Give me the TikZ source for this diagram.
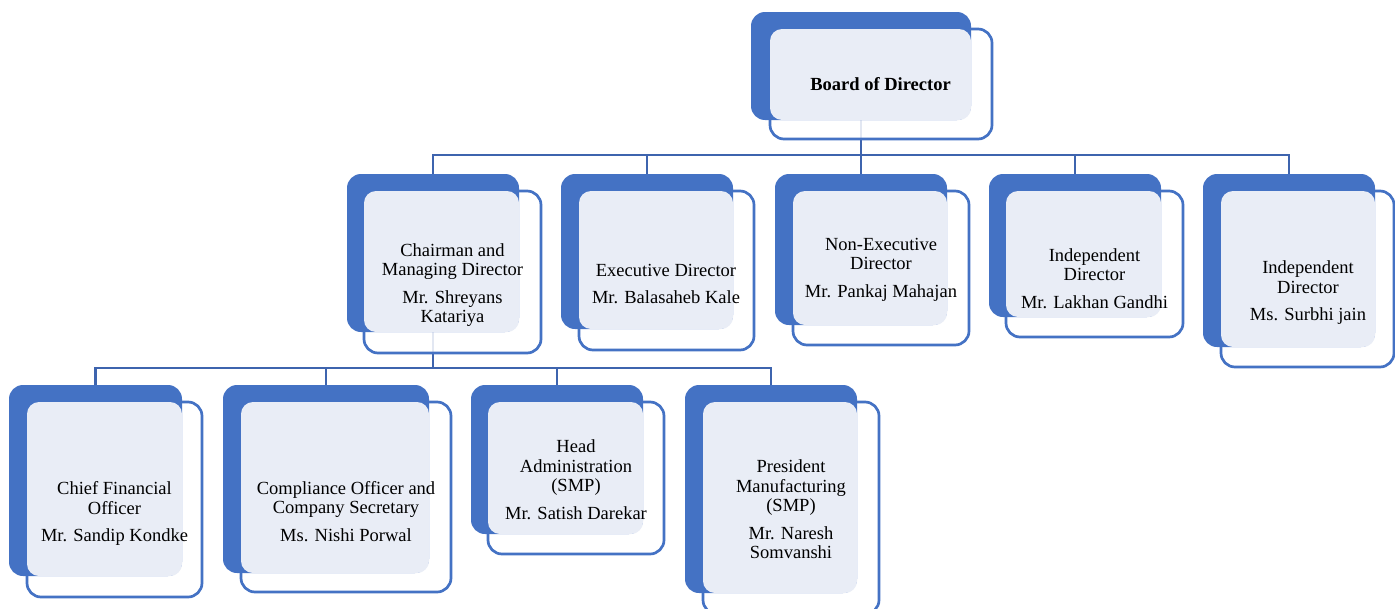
\documentclass[tikz,border=0pt]{standalone}
\usepackage{fontspec}
\setmainfont{Liberation Serif}
\usetikzlibrary{fit}
\pgfdeclarelayer{background}
\pgfsetlayers{background,main}

\definecolor{accent}{HTML}{4472C4}
\definecolor{connblue}{HTML}{3E64AE}
\definecolor{paleblue}{HTML}{E9EDF6}

\tikzset{
  frontbox/.style={draw=accent, line width=2.7pt, fill=white, fill opacity=0.85,
    draw opacity=1, rounded corners=14pt, inner sep=0pt, outer sep=0pt},
  backbox/.style={fill=accent, rounded corners=14pt, inner sep=0pt, outer sep=0pt},
  lightbox/.style={fill=paleblue, rounded corners=12pt, inner sep=0pt, outer sep=0pt},
  caption/.style={align=center, inner sep=0pt, text=black,
    font=\fontsize{18.5}{19.5}\selectfont},
  conn/.style={draw=connblue, line width=2.7pt}
}

% one chart entry: name, back NW, back SE, front NW, front SE, text centre, text
\newcommand{\orgunit}[7]{%
  \node[frontbox, fit={(#4) (#5)}] (#1-f) {};
  \node[backbox, fit={(#2) (#3)}] (#1-b) {};
  \node[lightbox, fit={(#1-f.north west) (#1-b.south east)}] (#1-l) {};
  \node[caption] (#1) at (#6) {#7};
}

\begin{document}
\begin{tikzpicture}[x=1pt, y=-1pt]
\useasboundingbox (0,0) rectangle (1395,608);

% top level
\orgunit{bd}{751,12}{971,120}{770,29}{992,139}{880.5,84}{\textbf{Board of Director}}

% directors
\orgunit{ch}{347,174}{519,332}{364,191}{541,353}{452.5,285}%
  {Chairman and\\Managing Director\\[8pt]Mr. Shreyans\\Katariya}
\orgunit{ex}{561,174}{733,329}{579,191}{754,350}{666,284}%
  {Executive Director\\[8pt]Mr. Balasaheb Kale}
\orgunit{ne}{775,174}{947,325}{793,191}{969,345}{881,269.5}%
  {Non-Executive\\Director\\[8pt]Mr. Pankaj Mahajan}
\orgunit{ia}{989,174}{1161,317}{1006,191}{1183,337}{1094.5,278.5}%
  {Independent\\Director\\[8pt]Mr. Lakhan Gandhi}
\orgunit{ib}{1203,174}{1375,347}{1221,191}{1394,367}{1308,293}%
  {Independent\\Director\\[8pt]Ms. Surbhi jain}

% senior management
\orgunit{cf}{9,385}{182,576}{27,402}{202,597}{114.5,513.5}%
  {Chief Financial\\Officer\\[8pt]Mr. Sandip Kondke}
\orgunit{co}{223,385}{429,573}{241,402}{451,592}{346,511.5}%
  {Compliance Officer and\\Company Secretary\\[8pt]Ms. Nishi Porwal}
\orgunit{ha}{471,385}{643,534}{488,402}{664,554}{576,479.5}%
  {Head\\Administration\\(SMP)\\[8pt]Mr. Satish Darekar}
\orgunit{pm}{685,385}{857,593}{703,402}{879,614}{791,509.5}%
  {President\\Manufacturing\\(SMP)\\[8pt]Mr. Naresh\\Somvanshi}

% connectors
\coordinate (busA) at (0,155);
\coordinate (busB) at (0,368);
\begin{pgfonlayer}{background}
  \draw[conn] (bd-b.south) -- (bd-b.south |- busA);
  \draw[conn] (ch-b.north) |- (ib-b.north |- busA) -- (ib-b.north);
  \draw[conn] (ex-b.north) -- (ex-b.north |- busA);
  \draw[conn] (ne-b.north) -- (ne-b.north |- busA);
  \draw[conn] (ia-b.north) -- (ia-b.north |- busA);

  \draw[conn] (ch-b.south) -- (ch-b.south |- busB);
  \draw[conn] (cf-b.north) |- (pm-b.north |- busB) -- (pm-b.north);
  \draw[conn] (co-b.north) -- (co-b.north |- busB);
  \draw[conn] (ha-b.north) -- (ha-b.north |- busB);
\end{pgfonlayer}
\end{tikzpicture}
\end{document}
